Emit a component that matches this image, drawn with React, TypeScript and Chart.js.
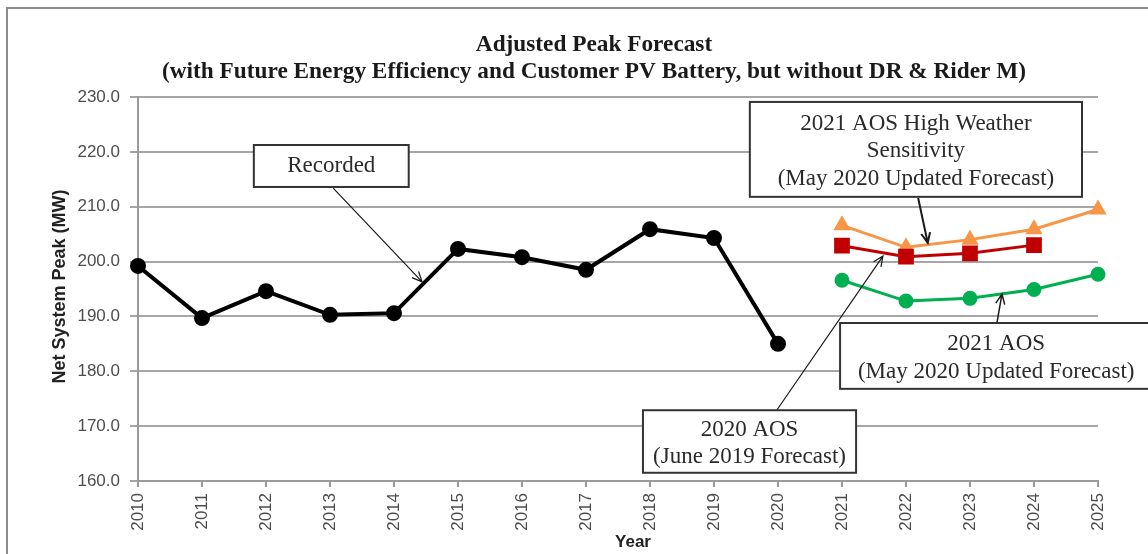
import React, { useEffect, useRef } from "react";
import { Chart, registerables } from "chart.js";

Chart.register(...registerables);

const years = ["2010", "2011", "2012", "2013", "2014", "2015", "2016", "2017", "2018", "2019", "2020", "2021", "2022", "2023", "2024", "2025"];
const recorded = [199.2, 189.7, 194.6, 190.3, 190.6, 202.3, 200.8, 198.5, 205.9, 204.3, 185.0, null, null, null, null, null];
const aos2021High = [null, null, null, null, null, null, null, null, null, null, null, 206.6, 202.6, 204.0, 205.9, 209.5];
const aos2020 = [null, null, null, null, null, null, null, null, null, null, null, 202.9, 200.9, 201.5, 203.0, null];
const aos2021 = [null, null, null, null, null, null, null, null, null, null, null, 196.6, 192.8, 193.3, 194.9, 197.7];
const yMin = 160;
const yMax = 230;
const yStep = 10;

const titleLines = [
  "Adjusted Peak Forecast",
  "(with Future Energy Efficiency and Customer PV Battery, but without DR & Rider M)",
];
const yTitle = "Net System Peak (MW)";
const xTitle = "Year";

const recordedNote = ["Recorded"];
const highNote = ["2021 AOS High Weather", "Sensitivity", "(May 2020 Updated Forecast)"];
const aos2021Note = ["2021 AOS", "(May 2020 Updated Forecast)"];
const aos2020Note = ["2020 AOS", "(June 2019 Forecast)"];

// callouts anchored in data space: box [x0, x1, yTop, yBottom], arrow [xFrom, yFrom, xTo, yTo]
const callouts = [
  { lines: recordedNote, box: [1.81, 4.23, 221.25, 213.6], arrow: [3.05, 213.4, 4.44, 196.3], aw: 1.2 },
  { lines: highNote, box: [9.56, 14.75, 229.1, 211.8], arrow: [12.19, 211.6, 12.34, 203.4], aw: 2 },
  { lines: aos2021Note, box: [10.97, 15.85, 188.8, 176.8], arrow: [13.42, 188.8, 13.5, 194.1], aw: 1.5 },
  { lines: aos2020Note, box: [7.89, 11.22, 172.9, 161.5], arrow: [9.98, 172.9, 11.64, 201.0], aw: 1.2 },
];

const overlayPlugin = {
  id: "overlay",
  afterDatasetsDraw(chart: any) {
    const ctx = chart.ctx;
    const xs = chart.scales.x;
    const ys = chart.scales.y;
    const area = chart.chartArea;
    ctx.save();
    // chart title
    ctx.fillStyle = "#1a1a1a";
    ctx.font = "bold 23.3px 'Liberation Serif', 'Times New Roman', serif";
    ctx.textAlign = "center";
    ctx.textBaseline = "middle";
    const tcx = (area.left + area.right) / 2 - 24;
    titleLines.forEach((t, i) => ctx.fillText(t, tcx, area.top - 52 + i * 27));

    // axis titles
    ctx.fillStyle = "#222";
    ctx.font = "bold 18px 'Liberation Sans', Arial, sans-serif";
    ctx.save();
    ctx.translate(area.left - 78, (area.top + area.bottom) / 2 - 2.5);
    ctx.rotate(-Math.PI / 2);
    ctx.fillText(yTitle, 0, 0);
    ctx.restore();
    ctx.font = "bold 17px 'Liberation Sans', Arial, sans-serif";
    ctx.fillText(xTitle, (area.left + area.right) / 2 + 15, area.bottom + 61);

    for (const c of callouts) {
      const x0 = xs.getPixelForValue(c.box[0]);
      const x1 = xs.getPixelForValue(c.box[1]);
      const y0 = ys.getPixelForValue(c.box[2]);
      const y1 = ys.getPixelForValue(c.box[3]);
      // arrow
      const ax0 = xs.getPixelForValue(c.arrow[0]);
      const ay0 = ys.getPixelForValue(c.arrow[1]);
      const ax1 = xs.getPixelForValue(c.arrow[2]);
      const ay1 = ys.getPixelForValue(c.arrow[3]);
      ctx.strokeStyle = "#1a1a1a";
      ctx.lineWidth = c.aw;
      ctx.beginPath();
      ctx.moveTo(ax0, ay0);
      ctx.lineTo(ax1, ay1);
      const ang = Math.atan2(ay1 - ay0, ax1 - ax0);
      const hl = 11;
      const spread = 0.42;
      ctx.moveTo(ax1 - hl * Math.cos(ang - spread), ay1 - hl * Math.sin(ang - spread));
      ctx.lineTo(ax1, ay1);
      ctx.lineTo(ax1 - hl * Math.cos(ang + spread), ay1 - hl * Math.sin(ang + spread));
      ctx.stroke();
      // box
      ctx.fillStyle = "#ffffff";
      ctx.fillRect(x0, y0, x1 - x0, y1 - y0);
      ctx.strokeStyle = "#333";
      ctx.lineWidth = 2;
      ctx.strokeRect(x0, y0, x1 - x0, y1 - y0);
      // text
      ctx.fillStyle = "#2a2a2a";
      ctx.font = "23px 'Liberation Serif', 'Times New Roman', serif";
      ctx.textAlign = "center";
      ctx.textBaseline = "middle";
      const lh = 27.5;
      const cx = (x0 + x1) / 2;
      const cy = (y0 + y1) / 2 + (c.lines.length > 1 ? 2 : 0);
      const n = c.lines.length;
      c.lines.forEach((t, i) => {
        ctx.fillText(t, cx, cy + (i - (n - 1) / 2) * lh);
      });
    }
    ctx.restore();
  },
};

export default function App() {
  const ref = useRef<HTMLCanvasElement | null>(null);
  useEffect(() => {
    if (!ref.current) return;
    const chart = new Chart(ref.current, {
      type: "line",
      data: {
        labels: years,
        datasets: [
          {
            label: "Recorded",
            data: recorded,
            borderColor: "#000000",
            backgroundColor: "#000000",
            borderWidth: 4,
            pointRadius: 6,
            pointStyle: "circle",
            order: 1,
          },
          {
            label: "2020 AOS (June 2019 Forecast)",
            data: aos2020,
            borderColor: "#C00000",
            backgroundColor: "#C00000",
            borderWidth: 3,
            pointRadius: 9,
            pointStyle: "rect",
            order: 2,
          },
          {
            label: "2021 AOS High Weather Sensitivity",
            data: aos2021High,
            borderColor: "#F79646",
            backgroundColor: "#F79646",
            borderWidth: 3,
            pointRadius: 7,
            pointStyle: "triangle",
            order: 3,
          },
          {
            label: "2021 AOS (May 2020 Updated Forecast)",
            data: aos2021,
            borderColor: "#00B050",
            backgroundColor: "#00B050",
            borderWidth: 3,
            pointRadius: 6,
            pointStyle: "circle",
            order: 4,
          },
        ],
      },
      options: {
        animation: false,
        responsive: false,
        devicePixelRatio: 1,
        spanGaps: false,
        layout: { padding: { left: 0, right: 50, top: 97, bottom: 0 } },
        plugins: {
          legend: { display: false },
          tooltip: { enabled: false },
          title: { display: false },
        },
        scales: {
          x: {
            type: "category",
            offset: false,
            grid: { drawOnChartArea: false, drawTicks: true, tickLength: 6, color: "#9a9a9a", lineWidth: 2 },
            border: { display: true, color: "#9a9a9a", width: 2 },
            ticks: {
              autoSkip: false,
              maxRotation: 90,
              minRotation: 90,
              padding: 6,
              color: "#4d4d4d",
              font: { family: "'Liberation Sans', Arial, sans-serif", size: 17 },
            },
            afterFit(scale: any) {
              scale.height = 73;
            },
          },
          y: {
            min: yMin,
            max: yMax,
            grid: { color: "#a6a6a6", lineWidth: 2, tickLength: 8 },
            border: { display: true, color: "#9a9a9a", width: 2 },
            ticks: {
              stepSize: yStep,
              padding: 10,
              color: "#4d4d4d",
              font: { family: "'Liberation Sans', Arial, sans-serif", size: 17 },
              callback: (v: any) => Number(v).toFixed(1),
            },
            afterFit(scale: any) {
              scale.width = 138;
            },
          },
        },
      },
      plugins: [overlayPlugin],
    } as any);
    return () => chart.destroy();
  }, []);

  return (
    <div style={{ position: "fixed", left: 0, top: 0, width: 1148, height: 554, overflow: "hidden", background: "#fff" }}>
      <div
        style={{
          position: "absolute",
          left: 6,
          top: 7,
          width: 1160,
          height: 570,
          border: "2px solid #8c8c8c",
          boxSizing: "border-box",
        }}
      />
      <canvas ref={ref} width={1148} height={554} style={{ position: "absolute", left: 0, top: 0 }} />
    </div>
  );
}
